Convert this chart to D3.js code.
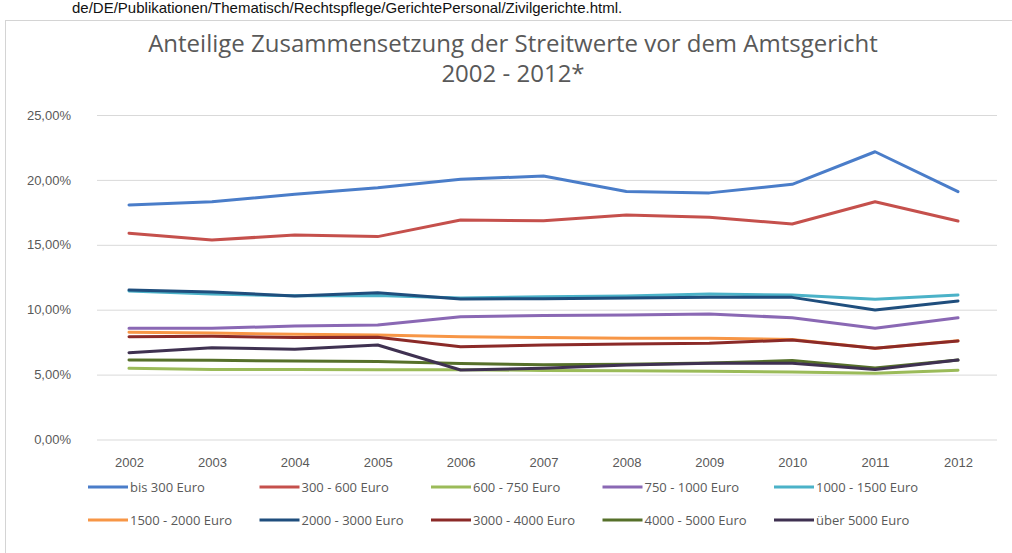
<!DOCTYPE html>
<html>
<head>
<meta charset="utf-8">
<script src="https://cdn.jsdelivr.net/npm/d3@7"></script>
<style>
  html, body { margin: 0; padding: 0; background: #fff; overflow: hidden; }
  svg { display: block; font-family: "Open Sans", sans-serif; }
</style>
</head>
<body>
<svg id="chart" width="1012" height="553"></svg>
<script>
// ── Data ────────────────────────────────────────────────────────────
const years = ['2002', '2003', '2004', '2005', '2006', '2007', '2008', '2009', '2010', '2011', '2012'];

const seriesNames = [
  'bis 300 Euro', '300 - 600 Euro', '600 - 750 Euro', '750 - 1000 Euro', '1000 - 1500 Euro',
  '1500 - 2000 Euro', '2000 - 3000 Euro', '3000 - 4000 Euro', '4000 - 5000 Euro', 'über 5000 Euro'
];

const bis300    = [18.07, 18.32, 18.90, 19.40, 20.05, 20.30, 19.10, 19.00, 19.66, 22.17, 19.10];
const e300_600  = [15.89, 15.37, 15.75, 15.63, 16.91, 16.86, 17.30, 17.12, 16.60, 18.32, 16.83];
const e600_750  = [5.48, 5.40, 5.40, 5.38, 5.38, 5.32, 5.30, 5.25, 5.20, 5.10, 5.33];
const e750_1000 = [8.57, 8.57, 8.74, 8.82, 9.46, 9.55, 9.59, 9.67, 9.38, 8.57, 9.38];
const e1000_1500 = [11.45, 11.20, 11.08, 11.10, 10.90, 11.00, 11.05, 11.20, 11.13, 10.80, 11.13];
const e1500_2000 = [8.26, 8.20, 8.10, 8.05, 7.92, 7.85, 7.80, 7.80, 7.70, 7.03, 7.60];
const e2000_3000 = [11.52, 11.36, 11.06, 11.31, 10.82, 10.85, 10.90, 10.95, 10.95, 9.98, 10.67];
const e3000_4000 = [7.92, 7.95, 7.85, 7.87, 7.15, 7.28, 7.36, 7.41, 7.67, 7.03, 7.59];
const e4000_5000 = [6.12, 6.10, 6.05, 6.00, 5.85, 5.75, 5.80, 5.90, 6.08, 5.50, 6.12];
const ueber5000 = [6.69, 7.07, 6.95, 7.28, 5.35, 5.48, 5.74, 5.87, 5.87, 5.40, 6.12];

const seriesValues = [bis300, e300_600, e600_750, e750_1000, e1000_1500,
                      e1500_2000, e2000_3000, e3000_4000, e4000_5000, ueber5000];

const seriesColors = ['#4a7dc9', '#c5504c', '#9bbb59', '#8a68b4', '#4bb2c8',
                      '#f79646', '#1f4e7d', '#8b2a28', '#56702a', '#3f3151'];

const yTicks = [0, 5, 10, 15, 20, 25];

// draw order: later series on top (as in Excel)
const series = seriesNames.map((name, i) => ({ name, values: seriesValues[i], color: seriesColors[i] }));

// ── Layout ──────────────────────────────────────────────────────────
const PLOT = { left: 97, right: 997, top: 115, bottom: 439.5 };
const fmtPct = v => d3.format('.2f')(v).replace('.', ',') + '%';

const svg = d3.select('#chart');

// source line at the very top (cut by the page edge in the original)
svg.append('text')
  .attr('x', 72).attr('y', 13)
  .attr('font-family', 'Liberation Sans, Arial, sans-serif')
  .attr('font-size', 15)
  .attr('fill', '#111')
  .text('de/DE/Publikationen/Thematisch/Rechtspflege/GerichtePersonal/Zivilgerichte.html.');

// chart frame
svg.append('rect')
  .attr('x', 5.5).attr('y', 20.5)
  .attr('width', 1020).attr('height', 560)
  .attr('fill', '#fff')
  .attr('stroke', '#d4d4d4');

// title
const title = svg.append('text')
  .attr('text-anchor', 'middle')
  .attr('font-size', 24)
  .attr('fill', '#595959');
title.append('tspan').attr('x', 513).attr('y', 52)
  .text('Anteilige Zusammensetzung der Streitwerte vor dem Amtsgericht');
title.append('tspan').attr('x', 513).attr('y', 82)
  .text('2002 - 2012*');

// scales
const x = d3.scalePoint()
  .domain(years)
  .range([129, 958]);

const y = d3.scaleLinear()
  .domain([0, 25])
  .range([PLOT.bottom, PLOT.top]);

// gridlines + y labels
const yAxis = svg.append('g')
  .attr('transform', `translate(${PLOT.left},0)`)
  .call(d3.axisLeft(y).tickValues(yTicks).tickFormat(fmtPct)
    .tickSize(-(PLOT.right - PLOT.left)).tickPadding(26));
yAxis.select('.domain').remove();
yAxis.selectAll('.tick line').attr('stroke', '#d9d9d9').attr('stroke-width', 1);
yAxis.selectAll('.tick text')
  .attr('font-size', 13)
  .attr('fill', '#595959');

// x labels
const xAxis = svg.append('g')
  .attr('transform', `translate(0,${PLOT.bottom})`)
  .call(d3.axisBottom(x).tickSize(0).tickPadding(18));
xAxis.select('.domain').remove();
xAxis.selectAll('.tick text')
  .attr('font-size', 13)
  .attr('fill', '#595959');

// lines
const line = d3.line()
  .x((d, i) => x(years[i]))
  .y(d => y(d));

svg.append('g')
  .selectAll('path')
  .data(series)
  .join('path')
  .attr('d', d => line(d.values))
  .attr('fill', 'none')
  .attr('stroke', d => d.color)
  .attr('stroke-width', 3)
  .attr('stroke-linejoin', 'round')
  .attr('stroke-linecap', 'round');

// legend: 5 columns x 2 rows
const legCol = d3.scaleLinear().domain([0, 4]).range([88, 774]);
const legRow = d3.scaleLinear().domain([0, 1]).range([487, 520]);

const leg = svg.append('g')
  .selectAll('g')
  .data(series)
  .join('g')
  .attr('transform', (d, i) => `translate(${legCol(i % 5)},${legRow(Math.floor(i / 5))})`);

leg.append('line')
  .attr('x1', 0).attr('x2', 40)
  .attr('stroke', d => d.color)
  .attr('stroke-width', 3);

leg.append('text')
  .attr('x', 42)
  .attr('dy', '0.35em')
  .attr('font-size', 13)
  .attr('fill', '#595959')
  .text(d => d.name);
</script>
</body>
</html>
